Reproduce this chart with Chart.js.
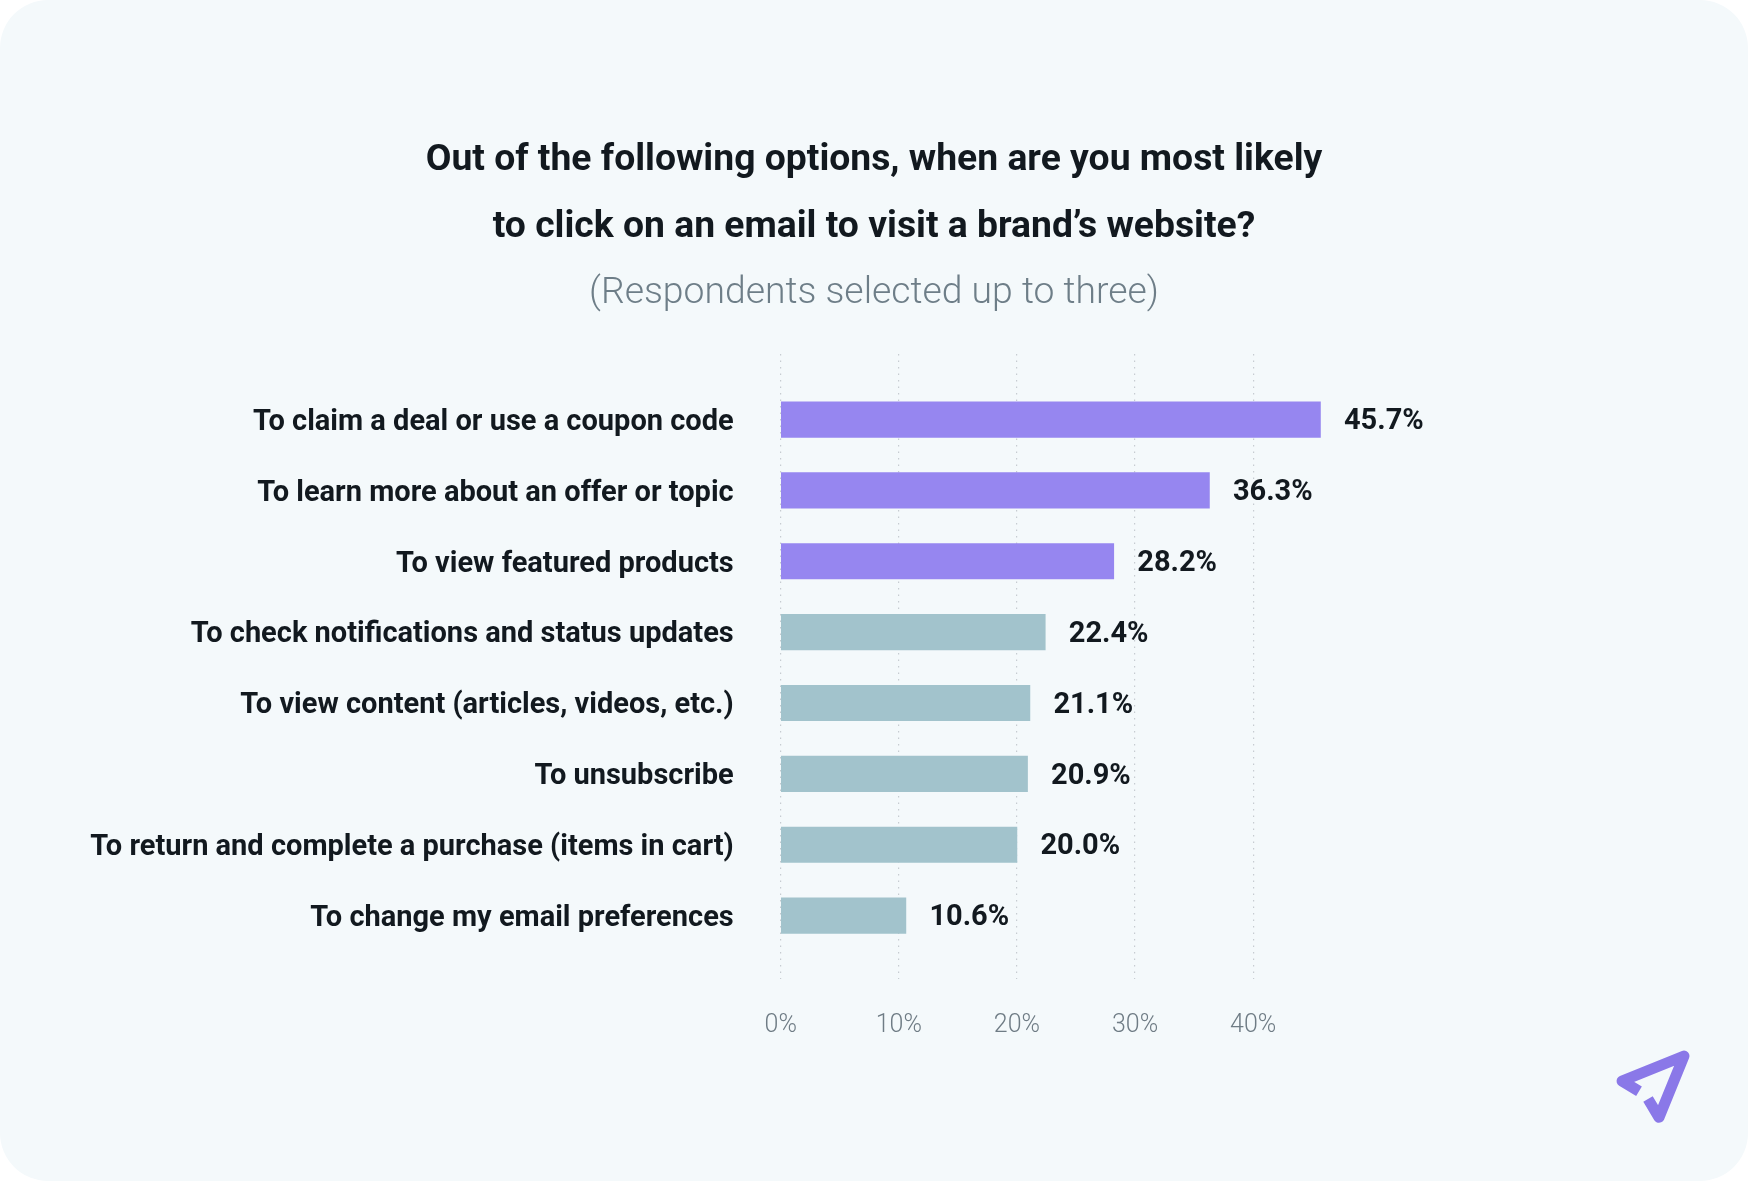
<!DOCTYPE html>
<html>
<head>
<meta charset="utf-8">
<script src="https://cdn.jsdelivr.net/npm/chart.js@4"></script>
<style>
  html, body { margin:0; padding:0; background:#fff; }
  #panel { position:absolute; left:0; top:0; width:1748px; height:1181px; background:#f4f9fb; border-radius:48px; }
  #chart { position:absolute; left:0; top:0; }
  #logo { position:absolute; left:0; top:0; }
</style>
</head>
<body>
<div id="panel"></div>
<canvas id="chart" width="1748" height="1181"></canvas>
<svg id="logo" width="1748" height="1181">
  <path d="M1639 1091.3 L1622 1081 L1684 1056 L1659 1117.3 L1648 1099" fill="none" stroke="#8a78e8" stroke-width="11" stroke-linejoin="round"/>
</svg>
<script>
const categories = [
  "To claim a deal or use a coupon code",
  "To learn more about an offer or topic",
  "To view featured products",
  "To check notifications and status updates",
  "To view content (articles, videos, etc.)",
  "To unsubscribe",
  "To return and complete a purchase (items in cart)",
  "To change my email preferences"
];
const values = [45.7, 36.3, 28.2, 22.4, 21.1, 20.9, 20.0, 10.6];
const barColors = ["#9686f0","#9686f0","#9686f0","#a2c3cc","#a2c3cc","#a2c3cc","#a2c3cc","#a2c3cc"];
const xTicks = [0, 10, 20, 30, 40];
const titleLines = ["Out of the following options, when are you most likely", "to click on an email to visit a brand\u2019s website?"];
const subtitleLine = "(Respondents selected up to three)";

// value labels at the end of each bar
const valueLabels = {
  id: "valueLabels",
  afterDatasetsDraw(chart) {
    const ctx = chart.ctx;
    const bars = chart.getDatasetMeta(0).data;
    ctx.save();
    ctx.font = "700 29px Roboto";
    ctx.fillStyle = "#12191f";
    ctx.textBaseline = "middle";
    ctx.textAlign = "left";
    bars.forEach((b, i) => {
      ctx.fillText(values[i].toFixed(1) + "%", b.x + 23.5, b.y + 2.5);
    });
    ctx.restore();
  }
};

new Chart(document.getElementById("chart"), {
  type: "bar",
  data: {
    datasets: [{
      data: values.map((v, i) => ({x: v, y: i})),
      backgroundColor: barColors,
      barThickness: 35.5
    }]
  },
  plugins: [valueLabels],
  options: {
    indexAxis: "y",
    responsive: false,
    animation: false,
    plugins: {
      legend: { display: false },
      tooltip: { enabled: false },
      title: {
        display: true,
        text: titleLines,
        color: "#12191f",
        font: { family: "Roboto", size: 37.3, weight: "700", lineHeight: 67/37.3 },
        padding: { top: 127, bottom: 0 }
      },
      subtitle: {
        display: true,
        text: subtitleLine,
        color: "#6e7e88",
        font: { family: "Roboto", size: 37.3, weight: "300", lineHeight: 65/37.3 },
        padding: { top: 0, bottom: 28 }
      }
    },
    scales: {
      x: {
        type: "linear",
        min: 0,
        max: 81.9,
        afterBuildTicks(scale) { scale.ticks = xTicks.map(v => ({value: v})); },
        afterFit(scale) { scale.height = 202; },
        grid: { color: "#c6ccd1", lineWidth: 1.2, drawTicks: false },
        border: { display: false, dash: [1.5, 5] },
        ticks: {
          padding: 31.5,
          maxRotation: 0,
          color: "#6f7c85",
          font: { family: "Roboto", size: 25, weight: "300" },
          callback: v => v + "%"
        }
      },
      y: {
        type: "linear",
        reverse: true,
        offset: false,
        bounds: "data",
        min: -0.925,
        max: 7.895,
        afterBuildTicks(scale) { scale.ticks = categories.map((c, i) => ({value: i})); },
        afterFit(scale) { scale.width = 780.7; },
        grid: { display: false, drawTicks: false },
        border: { display: false },
        ticks: {
          padding: 47,
          labelOffset: 3,
          color: "#12191f",
          font: { family: "Roboto", size: 29, weight: "700" },
          callback: v => categories[v]
        }
      }
    }
  }
});
</script>
</body>
</html>
